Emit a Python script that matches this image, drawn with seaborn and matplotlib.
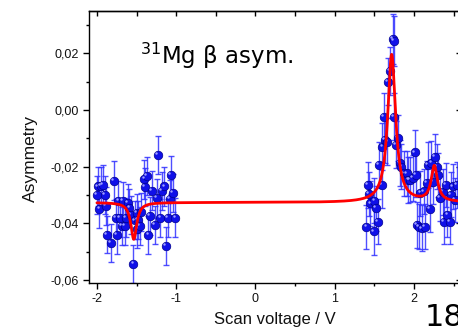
import numpy as np
import pandas as pd
import matplotlib
matplotlib.use("Agg")
import matplotlib.pyplot as plt
import matplotlib.transforms as mtransforms
import seaborn as sns
from matplotlib.ticker import MultipleLocator, FuncFormatter

sns.set_theme(style="ticks")
plt.rcParams["font.family"] = ["Liberation Sans", "DejaVu Sans"]

# --- measured beta asymmetry, negative-voltage scan region ---
volt_low = [-2.00, -1.99, -1.97, -1.95, -1.92, -1.90, -1.89, -1.87, -1.82, -1.79,
            -1.76, -1.75, -1.73, -1.71, -1.69, -1.67, -1.65, -1.63, -1.61, -1.59,
            -1.57, -1.54, -1.52, -1.50, -1.49, -1.48, -1.46, -1.44, -1.40, -1.39,
            -1.37, -1.35, -1.33, -1.31, -1.27, -1.24, -1.23, -1.20, -1.18, -1.15,
            -1.13, -1.10, -1.08, -1.07, -1.04, -1.01]
asym_low = [-0.0300, -0.0270, -0.0350, -0.0268, -0.0265, -0.0300, -0.0340, -0.0440, -0.0470, -0.0250,
            -0.0380, -0.0440, -0.0320, -0.0380, -0.0410, -0.0320, -0.0410, -0.0380, -0.0327, -0.0347,
            -0.0370, -0.0544, -0.0390, -0.0365, -0.0420, -0.0388, -0.0410, -0.0360, -0.0245, -0.0273,
            -0.0233, -0.0440, -0.0374, -0.0286, -0.0405, -0.0312, -0.0160, -0.0380, -0.0286, -0.0270,
            -0.0480, -0.0380, -0.0315, -0.0230, -0.0292, -0.0380]
err_low = [0.0068, 0.0070, 0.0066, 0.0068, 0.0070, 0.0067, 0.0068, 0.0066, 0.0068, 0.0068,
           0.0067, 0.0068, 0.0069, 0.0067, 0.0068, 0.0066, 0.0068, 0.0069, 0.0067, 0.0068,
           0.0067, 0.0068, 0.0067, 0.0068, 0.0066, 0.0068, 0.0067, 0.0068, 0.0069, 0.0067,
           0.0068, 0.0067, 0.0068, 0.0069, 0.0067, 0.0068, 0.0068, 0.0067, 0.0068, 0.0069,
           0.0068, 0.0067, 0.0068, 0.0068, 0.0067, 0.0068]

# --- measured beta asymmetry, positive-voltage scan region ---
volt_high = [1.40, 1.42, 1.435, 1.45, 1.49, 1.50, 1.52, 1.54, 1.56, 1.59,
             1.60, 1.625, 1.63, 1.665, 1.675, 1.70, 1.735, 1.75, 1.75, 1.77,
             1.80, 1.82, 1.84, 1.87, 1.91, 1.93, 1.95, 1.99, 2.01, 2.02,
             2.04, 2.06, 2.08, 2.10, 2.12, 2.14, 2.16, 2.18, 2.20, 2.22,
             2.24, 2.26, 2.285, 2.30, 2.33, 2.36, 2.38, 2.40, 2.42, 2.45,
             2.47, 2.49, 2.52, 2.54]
asym_high = [-0.0412, -0.0265, -0.0297, -0.0330, -0.0429, -0.0320, -0.0347, -0.0394, -0.0194, -0.0265,
             -0.0130, -0.0024, -0.0106, -0.0112, 0.0100, 0.0138, 0.0250, 0.0243, -0.0024, -0.0123,
             -0.0098, -0.0188, -0.0200, -0.0224, -0.0224, -0.0247, -0.0247, -0.0240, -0.0150, -0.0230,
             -0.0406, -0.0412, -0.0294, -0.0418, -0.0288, -0.0412, -0.0259, -0.0194, -0.0350, -0.0188,
             -0.0253, -0.0165, -0.0200, -0.0230, -0.0312, -0.0290, -0.0394, -0.0265, -0.0370, -0.0394,
             -0.0300, -0.0270, -0.0318, -0.0265]
err_high = [0.0078, 0.0080, 0.0078, 0.0079, 0.0082, 0.0080, 0.0079, 0.0080, 0.0081, 0.0080,
            0.0082, 0.0083, 0.0082, 0.0084, 0.0084, 0.0085, 0.0087, 0.0087, 0.0083, 0.0082,
            0.0081, 0.0080, 0.0080, 0.0079, 0.0080, 0.0080, 0.0079, 0.0080, 0.0080, 0.0079,
            0.0080, 0.0079, 0.0080, 0.0081, 0.0080, 0.0079, 0.0080, 0.0081, 0.0080, 0.0079,
            0.0080, 0.0081, 0.0080, 0.0079, 0.0080, 0.0081, 0.0080, 0.0079, 0.0080, 0.0080,
            0.0079, 0.0080, 0.0079, 0.0080]

# --- Lorentzian fit: constant baseline plus three resonances ---
fit_baseline = -0.0327
fit_centres = [-1.535, 1.718, 2.256]
fit_hwhm = [0.045, 0.060, 0.048]
fit_amplitudes = [-0.0130, 0.0522, 0.0125]

data = pd.DataFrame({
    "voltage": volt_low + volt_high,
    "asymmetry": asym_low + asym_high,
    "error": err_low + err_high,
})

v_fit = np.linspace(-2.0, 2.65, 3000)
a_fit = np.full_like(v_fit, fit_baseline)
for c, g, a in zip(fit_centres, fit_hwhm, fit_amplitudes):
    a_fit += a / (1.0 + ((v_fit - c) / g) ** 2)
fit = pd.DataFrame({"voltage": v_fit, "asymmetry": a_fit})

W, H, DPI = 458, 332, 100
fig = plt.figure(figsize=(W / DPI, H / DPI), dpi=DPI)
fig.patch.set_facecolor("white")
ax = fig.add_axes([89 / W, 1 - 283 / H, 371 / W, 272 / H])
ax.set_facecolor("white")

# error bars
ax.errorbar(data["voltage"], data["asymmetry"], yerr=data["error"], fmt="none",
            ecolor="#3030ff", elinewidth=1.0, capsize=2.4, capthick=1.0,
            alpha=0.85, zorder=2)
# data points
sns.scatterplot(data=data, x="voltage", y="asymmetry", ax=ax, s=38,
                color="#1010e8", edgecolor="#00008c", linewidth=0.5, zorder=3,
                legend=False)
# small glint to give the markers a shaded look
glint = ax.transData + mtransforms.ScaledTranslation(-1.3 / 72, 1.3 / 72, fig.dpi_scale_trans)
ax.scatter(data["voltage"], data["asymmetry"], s=3, color="#a0a0ff",
           linewidths=0, transform=glint, zorder=4)
# fit curve
sns.lineplot(data=fit, x="voltage", y="asymmetry", ax=ax, color="#ff0000",
             linewidth=2.0, zorder=5, legend=False)

ax.set_xlim(-2.10, 2.58)
ax.set_ylim(-0.0611, 0.0349)

comma = FuncFormatter(lambda v, p: f"{v:.2f}".replace(".", ",").replace("−", "-"))
ax.xaxis.set_major_locator(MultipleLocator(1))
ax.xaxis.set_minor_locator(MultipleLocator(0.5))
ax.xaxis.set_major_formatter(FuncFormatter(lambda v, p: f"{int(round(v))}"))
ax.yaxis.set_major_locator(MultipleLocator(0.02))
ax.yaxis.set_minor_locator(MultipleLocator(0.01))
ax.yaxis.set_major_formatter(comma)

for side in ["left", "bottom", "top", "right"]:
    ax.spines[side].set_visible(True)
    ax.spines[side].set_color("black")
    ax.spines[side].set_linewidth(1.0)

ax.tick_params(axis="both", which="major", direction="out", length=4.5, width=1.0,
               color="black", labelsize=9, labelcolor="#111111", pad=2.5)
ax.tick_params(axis="both", which="minor", direction="out", length=2.5, width=1.0,
               color="black")

# inward ticks along the top and right frame
top = ax.secondary_xaxis("top")
top.xaxis.set_major_locator(MultipleLocator(0.5))
top.tick_params(direction="in", length=3.5, width=1.0, labeltop=False, color="black")
top.spines["top"].set_linewidth(1.0)
right = ax.secondary_yaxis("right")
right.yaxis.set_major_locator(MultipleLocator(0.02))
right.tick_params(direction="in", length=3, width=1.0, labelright=False, color="black")
right.spines["right"].set_linewidth(1.0)

ax.set_xlabel("Scan voltage / V", fontsize=12, color="#111111")
ax.set_ylabel("Asymmetry", fontsize=12.5, color="#111111")
ax.xaxis.set_label_coords(0.501, -0.108)
ax.yaxis.set_label_coords(-0.137, 0.458)

fig.text(140 / W, 1 - 64 / H, r"$^{31}$Mg β asym.", fontsize=16.5,
         family=["DejaVu Sans"], color="black", va="baseline", ha="left")
fig.text(425 / W, 1 - 326 / H, "18", fontsize=22, family=["DejaVu Sans"],
         color="black", va="baseline", ha="left")

fig.savefig("out.png", dpi=DPI, facecolor="white")
